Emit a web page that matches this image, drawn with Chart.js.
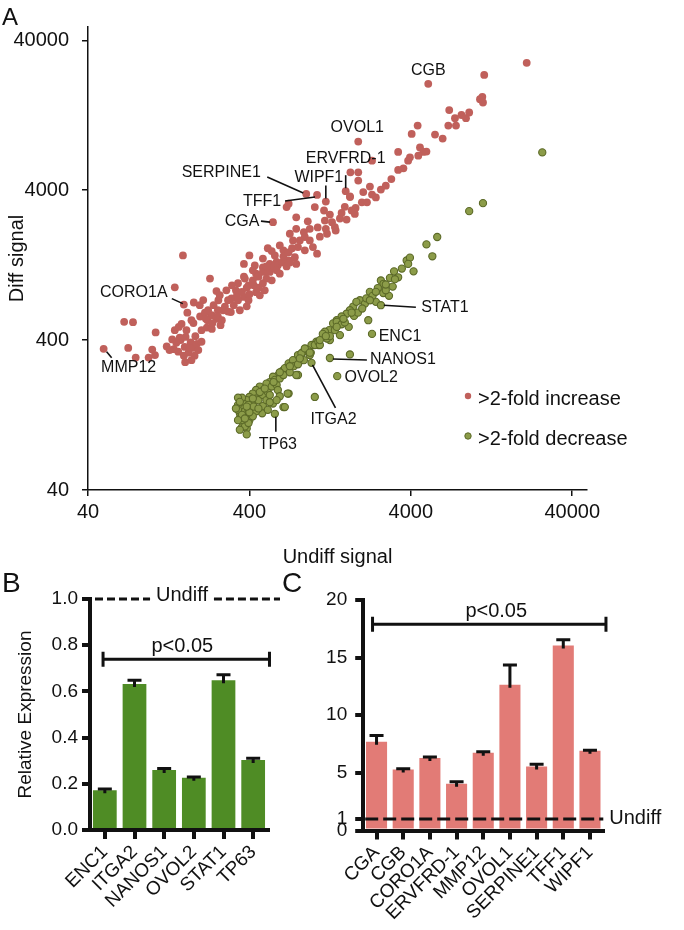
<!DOCTYPE html>
<html>
<head>
<meta charset="utf-8">
<script src="https://cdn.jsdelivr.net/npm/chart.js@4.4.1/dist/chart.umd.min.js"></script>
<style>
  body { margin: 0; background: #fff; width: 684px; height: 930px; position: relative; overflow: hidden; }
  canvas { position: absolute; }
  .panel { position: absolute; font-family: 'Liberation Sans', Arial, sans-serif; line-height: 1; color: #111; }
</style>
</head>
<body>
<canvas id="scatterA" width="684" height="580" style="left:0;top:0"></canvas>
<canvas id="barB" width="290" height="370" style="left:0;top:560px"></canvas>
<canvas id="barC" width="404" height="370" style="left:280px;top:560px"></canvas>
<div class="panel" style="left:2px;top:5px;font-size:24px">A</div>
<div class="panel" style="left:2px;top:569px;font-size:28px">B</div>
<div class="panel" style="left:282px;top:569px;font-size:28px">C</div>
<script>
const FONT = "'Liberation Sans', Arial, Helvetica, sans-serif";
const RED = '#c0605b';
const GREEN = '#8c9c49';
const GREEN_EDGE = '#5c6a28';

// panel A: [undiff signal, diff signal]
const increasePoints = [
  [20900,28300],[11400,23500],[5130,20500],[10730,16200],[11100,16800],[11200,15400],[6920,13700],
  [7510,12100],[8240,12700],[8790,12100],[9200,13200],[6830,10800],[7620,10800],[5650,9400],
  [6300,8850],[4410,10800],[4050,9500],[1890,8450],[3340,7200],[4560,7720],[4780,7200],[4450,6800],
  [5000,7240],[3950,6630],[3850,6300],[3600,5600],[3340,5460],[3030,4750],[2800,4290],[2610,4040],
  [2300,3740],[2030,3890],[2300,6300],[1690,5270],[1890,5270],[1890,4640],[1580,3940],[1680,3640],
  [1190,3360],[900,3780],[1050,3720],[680,3090],[700,3250],[560,2450],[1017,3090],[1160,2930],
  [780,2640],[920,2480],[1174,2510],[1300,2450],[1455,2590],[1600,2550],[1680,3600],[1990,3320],
  [2140,3320],[1720,2930],[1800,2780],[1190,2210],[1354,2270],[1210,2050],[780,2210],[712,2050],
  [745,1850],[882,1950],[947,1850],[800,1670],[882,1590],[990,1670],[1050,1510],[650,1590],
  [700,1360],[765,1430],[780,1290],[370,1290],[432,1260],[485,1220],[535,1290],[590,1330],
  [370,1060],[440,1110],[510,1140],[617,1110],[155,1470],[228,1030],[138,900],[157,690],
  [67,530],[76,527],[105,450],[50,350],[71,355],[79,306],[95,306],[104,318],[100,346],[123,363],
  [133,404],[136,348],[138,466],[146,490],[152,513],[165,610],[181,713],[207,740],[198,575],
  [180,520],[202,466],[218,485],[234,475],[250,850],[257,738],[282,670],[310,760],[330,860],
  [550,1570],[234,587],[250,555],[265,503],[307,615],[349,633],[385,672],[370,777],[150,400],
  [161,420],[173,386],[159,360],[178,355],[189,378],[168,330],[183,315],[193,343],[157,315],
  [145,335],[175,294],[262,797],[288,860],[312,928],[340,960],[375,1030],[395,928],[420,1002],
  [455,1060],[485,960],[510,1030],[535,1140],[565,1220],[600,1261],[640,1320],[680,1240],
  [712,1320],[295,738],[335,797],[275,633],[395,738],[440,835],[464,797],[498,860],[420,1168],
  [485,1400],[575,1470],[617,1714],[400,1470],[520,1640],[240,684],[212,610],[220,543],[255,633],
  [197,684],[215,555],[236,520],[255,575],[270,543],[295,620],[320,684],[340,738],[360,840],
  [385,895],[400,810],[425,930],[455,895],[485,1140],[510,1240],[550,1002],[590,1168],[650,1450],
  [700,1540],[735,1640],[821,1850],[870,2100],[947,2210],[1060,2260],[1093,1960],[1261,2750],
  [1370,2154],[1490,2820],[1560,3100],[1820,3050],[2232,4230],[2430,3580],[163,466],[148,415],
  [185,425],[202,390],[171,355],[141,384],[128,343],[160,285],[222,633],[175,543]
];
const decreasePoints = [
  [26100,7150],[9200,2900],[11200,3280],[5000,1740],[5830,1950],[5440,1450],[3770,1360],
  [3950,1420],[3850,1290],[4160,1150],[3150,1150],[2970,1040],[2610,1000],[2710,950],[3090,910],
  [2230,840],[2700,825],[2930,790],[2430,720],[2610,684],[2180,543],[2300,440],[1455,432],
  [1650,490],[1250,466],[1174,455],[1261,400],[1040,390],[1070,371],[900,350],[860,333],[947,318],
  [821,290],[970,282],[1261,304],[1678,321],[1400,230],[1017,167],[575,129],[800,234],[700,176],
  [650,143],[480,130],[560,151],[1935,738],[2078,700],[1760,670],[1678,633],[1600,600],[1490,575],
  [1390,543],[1320,517],[1140,440],[1210,410],[970,371],[920,343],[780,294],[727,280],[690,265],
  [650,252],[605,234],[560,228],[535,210],[510,205],[464,196],[440,186],[420,176],[400,167],
  [385,159],[370,150],[360,140],[349,130],[385,124],[370,114],[385,103],[420,150],[440,163],
  [490,186],[575,217],[630,246],[663,260],[700,280],[745,294],[800,318],[840,327],[882,352],
  [1017,371],[1070,390],[1390,530],[663,143],[690,176],[780,234],[395,148],[420,137],[455,159],
  [485,172],[520,180],[550,196],[590,201],[617,222],[650,234],[712,244],[755,268],[800,276],
  [870,294],[960,330],[1093,371],[1261,425],[1354,466],[1490,510],[1560,525],[1780,580],
  [1880,610],[2000,650],[1840,720],[2120,760],[2320,790],[2500,890],[2800,860],[3340,1050],
  [3520,1200],[360,165],[340,148],[349,121],[375,134],[340,137],[395,137],[400,117],[360,105],
  [385,94],[440,134],[485,145],[510,159],[535,172],[600,186],[520,137],[420,124],[535,154],
  [617,169],[590,159],[340,165],[349,155],[330,140],[360,127],[340,117],[375,106],[395,112],
  [349,101],[375,120],[400,132],[425,144],[455,140],[385,144],[420,163],[464,180],[498,190],
  [565,210],[617,244],[712,268],[821,302],[947,330],[1093,400],[1190,425],[1390,490],[1530,555],
  [1720,610],[2232,738],[2430,840],[2800,940],[3190,1020]
];
const logTicks = [40, 400, 4000, 40000];

// labelled genes in panel A; text and line offsets are in pixels from the point
const geneNotes = [
  { gene: 'CGB',      at: [5130, 20500], text: [0, -13] },
  { gene: 'OVOL1',    at: [1890, 8450],  text: [-1, -14] },
  { gene: 'ERVFRD-1', at: [1580, 3940],  text: [0, -33], line: [0, -16, 0, -3] },
  { gene: 'WIPF1',    at: [1190, 3360],  text: [-7, -24], line: [0, -16, 0, -3] },
  { gene: 'SERPINE1', at: [900, 3780],   text: [-85, -21], line: [-39, -17, -3, -1] },
  { gene: 'TFF1',     at: [1050, 3720],  text: [-55, 7], line: [-32, 6, -2, 2] },
  { gene: 'CGA',      at: [560, 2450],   text: [-31, -1], line: [-12, -1, -3, 0] },
  { gene: 'CORO1A',   at: [157, 690],    text: [-50, -12], line: [-12, -6, -1, -1] },
  { gene: 'MMP12',    at: [50, 350],     text: [25, 19], line: [3, 3, 8, 9] },
  { gene: 'STAT1',    at: [2610, 684],   text: [64, 2], line: [3, 0, 35, 2] },
  { gene: 'ENC1',     at: [2300, 440],   text: [28, 3] },
  { gene: 'NANOS1',   at: [1261, 304],   text: [73, 2], line: [3, 1, 37, 2] },
  { gene: 'OVOL2',    at: [1400, 230],   text: [34, 1] },
  { gene: 'ITGA2',    at: [970, 282],    text: [22, 57], line: [1, 2, 24, 45] },
  { gene: 'TP63',     at: [575, 129],    text: [3, 31], line: [1, 3, 1, 18] }
];

// panel B
const downGenes = ['ENC1', 'ITGA2', 'NANOS1', 'OVOL2', 'STAT1', 'TP63'];
const downExpr = [0.172, 0.632, 0.26, 0.226, 0.648, 0.303];
const downErr = [0.005, 0.016, 0.006, 0.003, 0.024, 0.008];
const bTicks = [0, 0.2, 0.4, 0.6, 0.8, 1.0];

// panel C
const upGenes = ['CGA', 'CGB', 'CORO1A', 'ERVFRD-1', 'MMP12', 'OVOL1', 'SERPINE1', 'TFF1', 'WIPF1'];
const upExpr = [7.7, 5.3, 6.3, 4.05, 6.75, 12.65, 5.55, 16.05, 6.92];
const upErr = [0.55, 0.05, 0.08, 0.17, 0.08, 1.7, 0.2, 0.5, 0.05];
const cTicks = [0, 1, 5, 10, 15, 20];

const scatterNotes = {
  id: 'scatterNotes',
  afterDatasetsDraw(chart) {
    const { ctx, chartArea, scales: { x, y } } = chart;
    ctx.save();
    ctx.font = '16px ' + FONT;
    ctx.fillStyle = '#111';
    ctx.strokeStyle = '#111';
    ctx.lineWidth = 1.6;
    ctx.textAlign = 'center';
    ctx.textBaseline = 'middle';
    geneNotes.forEach(n => {
      const px = x.getPixelForValue(n.at[0]);
      const py = y.getPixelForValue(n.at[1]);
      ctx.fillText(n.gene, px + n.text[0], py + n.text[1]);
      if (n.line) {
        ctx.beginPath();
        ctx.moveTo(px + n.line[0], py + n.line[1]);
        ctx.lineTo(px + n.line[2], py + n.line[3]);
        ctx.stroke();
      }
    });
    // legend
    const lx = chartArea.right - 119;
    const rows = [[chart.data.datasets[0], chartArea.bottom - 94], [chart.data.datasets[1], chartArea.bottom - 54]];
    ctx.font = '20px ' + FONT;
    ctx.textAlign = 'left';
    rows.forEach(([ds, ly]) => {
      ctx.beginPath();
      ctx.arc(lx, ly, 3.2, 0, Math.PI * 2);
      ctx.fillStyle = ds.backgroundColor;
      ctx.fill();
      if (ds.borderWidth) {
        ctx.strokeStyle = ds.borderColor;
        ctx.lineWidth = 1;
        ctx.stroke();
      }
      ctx.fillStyle = '#111';
      ctx.fillText(ds.label, lx + 10, ly + 3);
    });
    ctx.restore();
  }
};

new Chart(document.getElementById('scatterA'), {
  type: 'scatter',
  data: {
    datasets: [{
      label: '>2-fold increase',
      data: increasePoints.map(p => ({ x: p[0], y: p[1] })),
      backgroundColor: RED,
      borderWidth: 0,
      pointRadius: 3.9
    }, {
      label: '>2-fold decrease',
      data: decreasePoints.map(p => ({ x: p[0], y: p[1] })),
      backgroundColor: GREEN,
      borderColor: GREEN_EDGE,
      borderWidth: 1.1,
      pointRadius: 3.6
    }]
  },
  options: {
    responsive: false,
    animation: false,
    layout: { padding: { top: 27, right: 97, left: 0, bottom: 0 } },
    plugins: { legend: { display: false }, tooltip: { enabled: false } },
    scales: {
      x: {
        type: 'logarithmic', min: 40, max: 49400,
        afterBuildTicks: s => { s.ticks = logTicks.map(v => ({ value: v })); },
        afterFit: s => { s.height = 90; },
        border: { display: true, color: '#111', width: 1.5 },
        grid: { drawOnChartArea: false, drawTicks: true, tickLength: 6, color: '#111', lineWidth: 1.5 },
        ticks: { color: '#111', font: { family: FONT, size: 20 }, padding: 4, maxRotation: 0, callback: v => String(v) },
        title: { display: true, text: 'Undiff signal', color: '#111', font: { family: FONT, size: 20 }, padding: { top: 0, bottom: 11 } }
      },
      y: {
        type: 'logarithmic', min: 40, max: 49100,
        afterBuildTicks: s => { s.ticks = logTicks.map(v => ({ value: v })); },
        afterFit: s => { s.width = 88; },
        border: { display: true, color: '#111', width: 1.5 },
        grid: { drawOnChartArea: false, drawTicks: true, tickLength: 6, color: '#111', lineWidth: 1.5 },
        ticks: { color: '#111', font: { family: FONT, size: 20 }, padding: 13, callback: v => String(v) },
        title: { display: true, text: 'Diff signal', color: '#111', font: { family: FONT, size: 20 }, padding: { top: 5, bottom: 0 } }
      }
    }
  },
  plugins: [scatterNotes]
});

// error bars, Undiff reference line and the p<0.05 bracket
const barExtras = {
  id: 'barExtras',
  afterDatasetsDraw(chart, args, opts) {
    const { ctx, chartArea, scales: { x, y } } = chart;
    const meta = chart.getDatasetMeta(0);
    const values = chart.data.datasets[0].data;
    ctx.save();
    ctx.strokeStyle = '#111';
    ctx.fillStyle = '#111';
    ctx.lineWidth = 3;
    meta.data.forEach((bar, i) => {
      const top = y.getPixelForValue(values[i] + opts.errors[i]);
      ctx.beginPath();
      ctx.moveTo(bar.x, bar.y + 3);
      ctx.lineTo(bar.x, top);
      ctx.moveTo(bar.x - 7, top);
      ctx.lineTo(bar.x + 7, top);
      ctx.stroke();
    });

    // bracket
    const by = y.getPixelForValue(opts.bracket.value);
    const step = x.getPixelForValue(1) - x.getPixelForValue(0);
    const bx0 = x.getPixelForValue(0) + opts.bracket.from * step;
    const bx1 = x.getPixelForValue(0) + opts.bracket.to * step;
    ctx.beginPath();
    ctx.moveTo(bx0, by); ctx.lineTo(bx1, by);
    ctx.moveTo(bx0, by - 7.5); ctx.lineTo(bx0, by + 7.5);
    ctx.moveTo(bx1, by - 7.5); ctx.lineTo(bx1, by + 7.5);
    ctx.stroke();
    ctx.font = '20px ' + FONT;
    ctx.textAlign = 'center';
    ctx.textBaseline = 'middle';
    ctx.fillText('p<0.05', (bx0 + bx1) / 2 + opts.bracket.shift, by - 13);

    // Undiff line
    const uy = y.getPixelForValue(1);
    const tw = ctx.measureText('Undiff').width;
    ctx.setLineDash(opts.dash);
    ctx.beginPath();
    if (opts.undiffInside) {
      const cx = (chartArea.left + chartArea.right) / 2 + 3;
      ctx.moveTo(chartArea.left + 5, uy); ctx.lineTo(cx - tw / 2 - 6, uy);
      ctx.moveTo(cx + tw / 2 + 6, uy); ctx.lineTo(chartArea.right + 12, uy);
      ctx.stroke();
      ctx.setLineDash([]);
      ctx.textBaseline = 'alphabetic';
      ctx.fillText('Undiff', cx, uy + 2);
    } else {
      ctx.moveTo(chartArea.left + 2, uy); ctx.lineTo(chartArea.right, uy);
      ctx.stroke();
      ctx.setLineDash([]);
      ctx.textAlign = 'left';
      ctx.fillText('Undiff', chartArea.right + 6, uy);
    }
    ctx.restore();
  }
};

function barScales(ticks, tickFmt, width, height, pad, yTitle) {
  return {
    x: {
      afterFit: s => { s.height = height; },
      border: { display: true, color: '#111', width: 4 },
      grid: { offset: false, drawOnChartArea: false, drawTicks: true, tickLength: 9, color: '#111', lineWidth: 4 },
      ticks: { color: '#111', font: { family: FONT, size: 19 }, autoSkip: false, minRotation: 45, maxRotation: 45, padding: 2 }
    },
    y: {
      min: ticks[0], max: ticks[ticks.length - 1],
      afterBuildTicks: s => { s.ticks = ticks.map(v => ({ value: v })); },
      afterFit: s => { s.width = width; },
      border: { display: true, color: '#111', width: 4 },
      grid: { drawOnChartArea: false, drawTicks: true, tickLength: 8, color: '#111', lineWidth: 4 },
      ticks: { color: '#111', font: { family: FONT, size: 19 }, padding: pad, autoSkip: false, callback: tickFmt },
      title: { display: !!yTitle, text: yTitle || '', color: '#111', font: { family: FONT, size: 19 }, padding: { top: 14, bottom: 0 } }
    }
  };
}

new Chart(document.getElementById('barB'), {
  type: 'bar',
  data: {
    labels: downGenes,
    datasets: [{ data: downExpr, backgroundColor: '#4f8c25', barPercentage: 0.8, categoryPercentage: 1 }]
  },
  options: {
    responsive: false,
    animation: false,
    layout: { padding: { top: 39, right: 22, left: 0, bottom: 0 } },
    plugins: {
      legend: { display: false }, tooltip: { enabled: false },
      barExtras: { errors: downErr, bracket: { value: 0.739, from: -0.06, to: 5.55, shift: -4 }, dash: [8, 4], undiffInside: true }
    },
    scales: barScales(bTicks, v => v.toFixed(1), 90, 100, 4, 'Relative Expression')
  },
  plugins: [barExtras]
});

new Chart(document.getElementById('barC'), {
  type: 'bar',
  data: {
    labels: upGenes,
    datasets: [{ data: upExpr, backgroundColor: '#e27b76', barPercentage: 0.79, categoryPercentage: 1 }]
  },
  options: {
    responsive: false,
    animation: false,
    layout: { padding: { top: 40, right: 80.7, left: 0, bottom: 0 } },
    plugins: {
      legend: { display: false }, tooltip: { enabled: false },
      barExtras: { errors: upErr, bracket: { value: 17.9, from: -0.15, to: 8.6, shift: 7 }, dash: [13, 5], undiffInside: false }
    },
    scales: barScales(cTicks, v => String(v), 83.2, 99.5, 8, null)
  },
  plugins: [barExtras]
});
</script>
</body>
</html>
